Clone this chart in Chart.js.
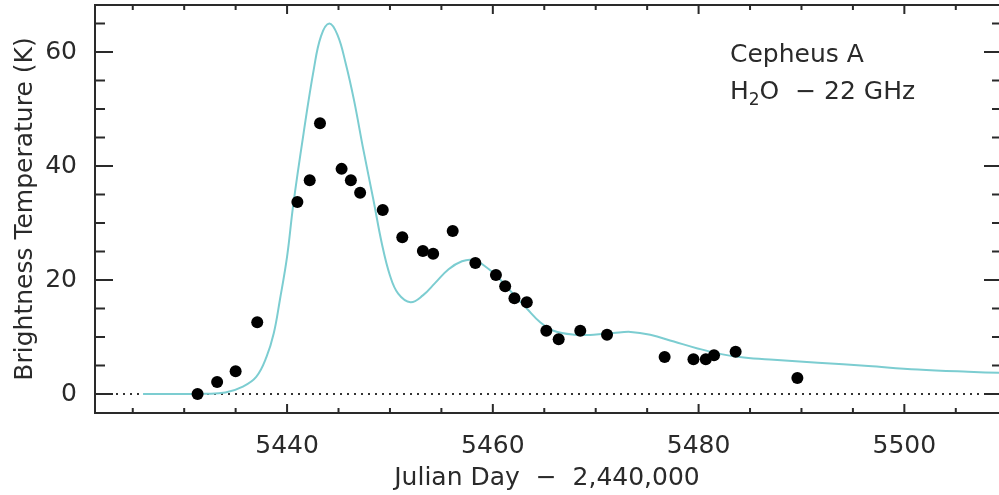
<!DOCTYPE html>
<html>
<head>
<meta charset="utf-8">
<script src="https://cdn.jsdelivr.net/npm/chart.js@4.4.1/dist/chart.umd.min.js"></script>
<style>
  html, body { margin: 0; padding: 0; background: #fff; }
  #wrap { width: 999px; height: 495px; }
</style>
</head>
<body>
<div id="wrap"><canvas id="cephChart"></canvas></div>
<script>
// observed maser brightness (Julian Day - 2,440,000, K)
const obsDays = [5431.3, 5433.2, 5435.0, 5437.1, 5441.0, 5442.2, 5443.2, 5445.3, 5446.2, 5447.1,
  5449.3, 5451.2, 5453.2, 5454.2, 5456.1, 5458.3, 5460.3, 5461.2, 5462.1, 5463.3,
  5465.2, 5466.4, 5468.5, 5471.1, 5476.7, 5479.5, 5480.7, 5481.5, 5483.6, 5489.6];
const obsTemps = [0.0, 2.1, 4.0, 12.6, 33.7, 37.5, 47.5, 39.5, 37.5, 35.3,
  32.3, 27.5, 25.1, 24.6, 28.6, 23.0, 20.9, 18.9, 16.8, 16.1,
  11.1, 9.6, 11.1, 10.4, 6.5, 6.1, 6.1, 6.8, 7.4, 2.8];

// model curve
const modelDays = [5426.0, 5429.0, 5432.0, 5434.0, 5435.7, 5437.0, 5438.0, 5438.7,
  5439.3, 5440.0, 5440.6, 5441.6, 5442.6, 5443.3, 5444.1, 5444.9, 5445.7, 5446.5,
  5447.4, 5448.4, 5449.2, 5450.0, 5450.8, 5452.0, 5453.2, 5454.4,
  5455.7, 5457.0, 5458.1, 5459.4, 5460.7, 5462.0, 5463.3, 5464.6, 5465.9, 5467.9,
  5469.8, 5471.7, 5473.4, 5475.3, 5477.6, 5479.9, 5482.2, 5484.4, 5487.3, 5491.6,
  5496.5, 5501.3, 5506.2, 5509.5];
const modelTemps = [0.0, 0.0, 0.05, 0.25, 1.3, 3.0, 6.5, 10.6,
  16.5, 24.1, 33.2, 45.7, 57.0, 62.8, 65.0, 63.0, 58.0, 51.6,
  43.0, 34.0, 26.5, 20.8, 17.6, 16.1, 17.3, 19.5,
  21.9, 23.3, 23.5, 22.2, 20.1, 17.5, 15.0, 12.6, 11.1, 10.4,
  10.4, 10.7, 10.9, 10.4, 9.2, 8.0, 7.0, 6.4, 6.0, 5.5,
  4.9, 4.3, 3.9, 3.7];

const xTickLabels = [5440, 5460, 5480, 5500];
const yTickLabels = [0, 20, 40, 60];
const xRange = [5421.33, 5509.2];
const yRange = [-3.33, 68.25];

const FONT = "'DejaVu Sans', sans-serif";
const INK = '#2a2a2a';

// no label overflow padding, so the plot box sits where the original does
function noPad(s) {
  s.paddingTop = 0; s.paddingBottom = 0; s.paddingLeft = 0; s.paddingRight = 0;
}

// frame with inward ticks on all sides + label text
// (the right frame line falls just outside the original picture, only its ticks show)
const framePlugin = {
  id: 'frame',
  afterDraw(chart) {
    const { ctx, chartArea: a, scales } = chart;
    const xs = scales.x, ys = scales.y;
    ctx.save();
    ctx.strokeStyle = INK;
    ctx.lineWidth = 2;
    ctx.beginPath();
    ctx.moveTo(a.right + 2, a.top); ctx.lineTo(a.left, a.top);
    ctx.lineTo(a.left, a.bottom); ctx.lineTo(a.right + 2, a.bottom);
    for (let v = 5425; v <= 5505; v += 5) {
      const px = xs.getPixelForValue(v);
      const len = v % 20 === 0 ? 9 : 5;
      ctx.moveTo(px, a.bottom); ctx.lineTo(px, a.bottom - len);
      ctx.moveTo(px, a.top); ctx.lineTo(px, a.top + len);
    }
    for (let v = 0; v <= 65; v += 5) {
      const py = ys.getPixelForValue(v);
      const len = v % 20 === 0 ? 18 : 10;
      ctx.moveTo(a.left, py); ctx.lineTo(a.left + len, py);
      ctx.moveTo(a.right + 3, py); ctx.lineTo(a.right + 3 - len, py);
    }
    ctx.stroke();

    // annotation
    ctx.fillStyle = INK;
    ctx.textBaseline = 'alphabetic';
    ctx.textAlign = 'left';
    ctx.font = '25px ' + FONT;
    ctx.fillText('Cepheus A', 730, 62);
    let x = 730;
    ctx.fillText('H', x, 99);
    x += ctx.measureText('H').width;
    ctx.font = '17px ' + FONT;
    ctx.fillText('2', x, 105);
    x += ctx.measureText('2').width;
    ctx.font = '25px ' + FONT;
    ctx.fillText('O  \u2212 22 GHz', x, 99);
    ctx.restore();
  }
};

const ctx = document.getElementById('cephChart').getContext('2d');
new Chart(ctx, {
  type: 'scatter',
  data: {
    datasets: [
      {
        label: 'observed',
        data: obsDays.map((d, i) => ({ x: d, y: obsTemps[i] })),
        backgroundColor: '#000',
        borderWidth: 0,
        pointRadius: 6,
        order: 0
      },
      {
        label: 'model',
        type: 'line',
        data: modelDays.map((d, i) => ({ x: d, y: modelTemps[i] })),
        borderColor: '#7ccdd1',
        borderWidth: 2,
        pointRadius: 0,
        tension: 0.4,
        fill: false,
        order: 1
      },
      {
        label: 'zero',
        type: 'line',
        data: [{ x: xRange[0], y: 0 }, { x: xRange[1], y: 0 }],
        borderColor: '#333',
        borderWidth: 2,
        borderDash: [2, 5],
        pointRadius: 0,
        order: 2
      }
    ]
  },
  options: {
    responsive: true,
    maintainAspectRatio: false,
    animation: false,
    layout: { autoPadding: false, padding: { top: 5, right: 0, left: 0, bottom: 0 } },
    plugins: { legend: { display: false }, tooltip: { enabled: false } },
    scales: {
      x: {
        type: 'linear',
        min: xRange[0],
        max: xRange[1],
        afterBuildTicks: s => { s.ticks = xTickLabels.map(v => ({ value: v })); },
        afterFit: s => { s.height = 82; noPad(s); },
        grid: { display: false },
        border: { display: false },
        ticks: { color: INK, font: { family: FONT, size: 25 }, padding: 10, maxRotation: 0, callback: v => String(v) },
        title: {
          display: true,
          text: 'Julian Day  \u2212  2,440,000',
          color: INK,
          font: { family: FONT, size: 25 },
          padding: { top: 0, bottom: 2 }
        }
      },
      y: {
        type: 'linear',
        min: yRange[0],
        max: yRange[1],
        afterBuildTicks: s => { s.ticks = yTickLabels.map(v => ({ value: v })); },
        afterFit: s => { s.width = 95; noPad(s); },
        grid: { display: false },
        border: { display: false },
        ticks: { color: INK, font: { family: FONT, size: 25 }, padding: 10, callback: v => String(v) },
        title: {
          display: true,
          text: 'Brightness Temperature (K)',
          color: INK,
          font: { family: FONT, size: 25 },
          padding: { top: 10, bottom: 0 }
        }
      }
    }
  },
  plugins: [framePlugin]
});
</script>
</body>
</html>
